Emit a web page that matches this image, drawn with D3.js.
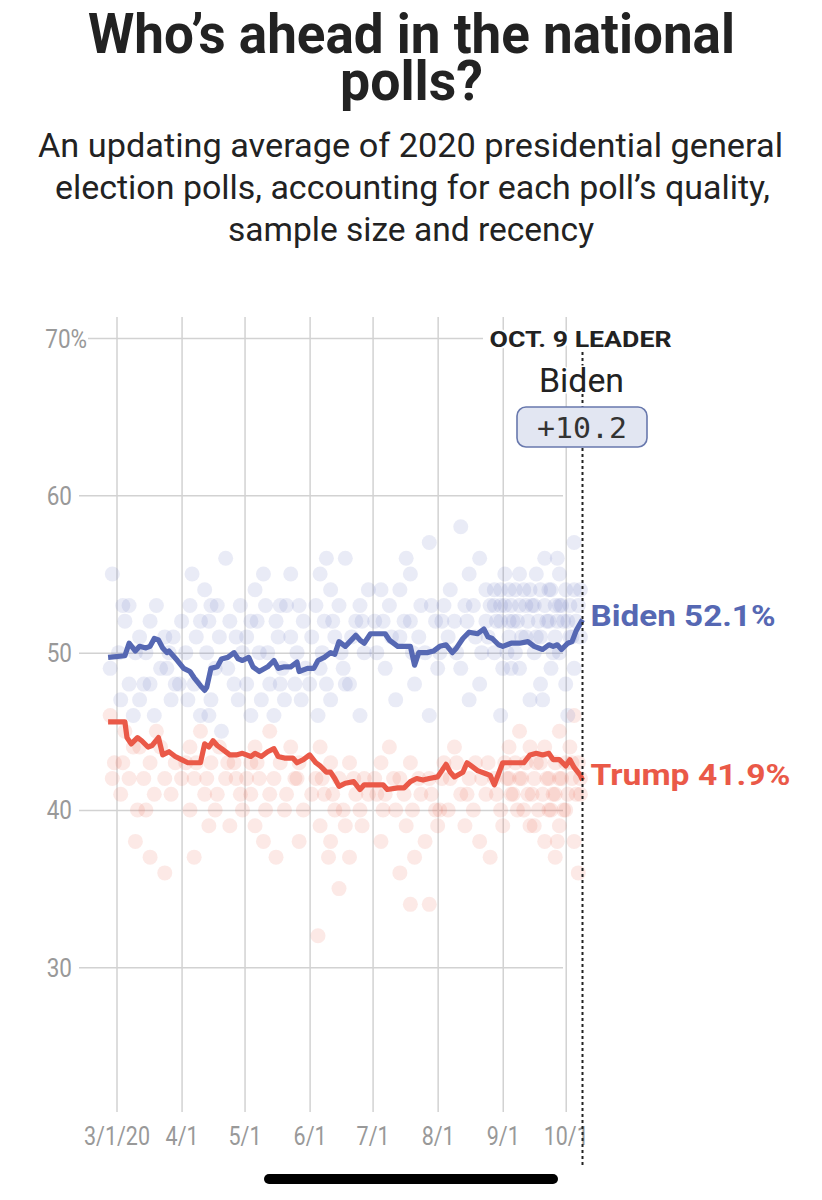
<!DOCTYPE html>
<html><head><meta charset="utf-8">
<script src="https://cdn.jsdelivr.net/npm/d3@7"></script>
<style>
html,body{margin:0;padding:0;background:#fff;}
svg{display:block;}
</style></head><body>
<svg id="chart" width="822" height="1200"></svg>
<script>
// ---------- DATA ----------
const tickDates = ["2020-03-01","2020-04-01","2020-05-01","2020-06-01","2020-07-01","2020-08-01","2020-09-01","2020-10-01"];
const tickLabels = ["3/1/20","4/1","5/1","6/1","7/1","8/1","9/1","10/1"];
const yTicks = [30,40,50,60,70];
const leaderDate = "2020-10-09";
const leaderName = "Biden";
const leaderMargin = "+10.2";

// average lines: days after 3/1/2020 and percent
const bidenDays = [-4,4,6,9,11,14,16,18,20,22,24,25,29,32,35,37,40,42,43,45,48,50,53,56,58,60,63,65,68,72,75,77,80,83,86,87,91,94,96,99,102,104,106,109,114,116,118,121,124,128,130,134,136,140,142,144,148,151,154,157,160,162,165,168,172,175,177,179,182,184,188,192,196,199,203,206,208,210,212,215,217,219,222];
const bidenPct = [49.7,49.8,50.6,50.1,50.4,50.3,50.4,50.9,50.8,50.3,50.0,50.1,49.5,49.0,48.8,48.4,47.9,47.6,47.8,49.0,49.1,49.6,49.7,50.0,49.6,49.5,49.7,49.1,48.8,49.1,49.5,49.0,49.1,49.1,49.4,48.8,49.0,49.0,49.5,49.7,50.0,49.9,50.7,50.4,51.1,50.8,50.6,51.2,51.2,51.2,50.8,50.4,50.4,50.4,49.2,50.0,50.0,50.1,50.4,50.5,50.0,50.3,50.9,51.3,51.2,51.5,51.0,50.9,50.5,50.4,50.6,50.6,50.7,50.4,50.2,50.5,50.4,50.5,50.2,50.6,50.7,51.4,52.1];
const trumpDays = [-4,4,5,7,10,12,15,17,20,22,25,28,31,34,36,40,42,44,46,48,51,54,57,60,64,66,69,72,75,77,80,84,86,89,92,95,97,100,102,104,106,109,113,116,118,122,127,129,134,137,140,143,146,149,153,157,159,161,165,167,169,172,176,178,180,182,184,187,191,194,197,200,203,206,208,211,214,216,218,221,222];
const trumpPct = [45.6,45.6,44.6,44.2,44.6,44.4,44.0,44.1,44.6,43.5,43.7,43.4,43.2,43.0,43.0,43.0,44.2,44.0,44.4,44.1,43.8,43.5,43.5,43.6,43.4,43.6,43.4,43.7,43.9,43.4,43.3,43.3,43.0,43.2,43.5,43.0,42.8,42.4,42.4,42.0,41.5,41.7,41.8,41.3,41.6,41.6,41.6,41.3,41.4,41.4,41.8,42.0,41.9,42.0,42.1,42.9,42.4,42.1,42.4,43.0,42.8,42.5,42.3,42.2,41.6,42.3,43.0,43.0,43.0,43.0,43.5,43.6,43.5,43.6,43.2,43.2,42.8,43.2,42.7,42.2,41.9];

// individual polls: [days after 3/1/2020, percent]
const bidenPolls = [
[-2,55],[6,53],[4,52],[16,52],[11,51],[23,51],[1,50],[14,50],[25,50],[-3,49],[21,49],[6,48],[16,48],[28,48],[2,47],[18,46],[11,47],
[3,53],[9,50],[19,53],[24,49],[27,51],[8,46],[13,48],
[52,56],[42,54],[35,53],[45,53],[59,53],[40,52],[54,52],[49,51],[33,50],[47,49],[37,48],[56,48],[45,47],[40,46],[50,45],[34,47],
[31,52],[38,51],[43,50],[48,53],[53,49],[57,51],[36,55],[60,50],[44,52],
[83,55],[66,54],[71,53],[78,53],[87,53],[64,52],[76,52],[83,51],[68,50],[90,49],[73,48],[85,48],[80,47],[64,46],[69,47],
[62,51],[67,52],[72,50],[77,51],[81,53],[86,50],[89,52],[70,55],[79,49],
[109,56],[97,55],[102,54],[95,53],[106,53],[116,53],[99,52],[114,52],[104,51],[118,50],[97,49],[109,48],[102,47],[116,46],[111,48],
[93,51],[98,50],[103,52],[107,50],[112,51],[117,52],[120,54],[100,56],[108,49],
[149,57],[140,55],[126,54],[135,54],[130,53],[145,53],[123,52],[140,52],[152,52],[135,51],[147,50],[128,49],[142,48],[133,47],[149,46],
[124,50],[127,52],[131,51],[137,52],[141,50],[144,51],[150,53],[153,49],[138,56],
[164,58],[173,56],[168,55],[159,54],[180,54],[156,53],[166,53],[178,53],[161,52],[176,52],[183,52],[171,51],[154,50],[180,50],[164,49],[173,48],[168,47],[183,46],
[155,52],[158,51],[162,50],[167,52],[170,53],[174,50],[177,51],[181,52],[184,49],
[218,57],[204,56],[192,55],[211,55],
[187,54],[190,54],[197,54],[202,54],[207,54],[214,54],[218,54],
[185,53],[188,53],[192,53],[195,53],[199,53],[204,53],[209,53],[211,53],[216,53],[220,53],
[187,52],[191,52],[196,52],[201,52],[206,52],[210,52],[215,52],[219,52],
[187,51],[195,51],[202,51],[209,51],[216,51],
[190,50],[199,50],[211,50],[192,49],[207,49],[218,49],[202,48],[214,48],[197,47],
[176,54],[180,53],[183,54],[185,55],[183,53],
[186,50],[189,52],[193,51],[198,53],[200,51],[205,52],[208,50],[212,53],[213,52],[217,51],[221,54],[194,54],[200,55],[206,54],[210,56],[188,49],[203,47],[215,46],[221,51],
[30,48],[62,48],[78,48],[92,48],[100,48],[26,47],[58,47],[88,47],[96,46],[75,46],[44,46]
];
const trumpPolls = [
[-3,46],[4,45],[11,44],[21,44],[-1,43],[16,43],[28,43],[6,42],[23,42],[2,41],[18,41],[14,40],[9,38],[16,37],[23,36],[-2,42],
[3,43],[8,44],[13,42],[19,45],[26,41],[10,40],
[40,45],[35,44],[49,44],[33,43],[45,43],[56,43],[37,42],[52,42],[42,41],[59,41],[47,40],[54,39],[37,37],[35,40],
[31,42],[38,43],[43,42],[48,41],[53,43],[57,42],[44,39],[60,40],
[73,45],[66,44],[83,44],[64,43],[78,43],[87,43],[68,42],[85,42],[73,41],[80,40],[66,39],[87,38],[76,37],[64,41],
[62,42],[67,43],[71,40],[75,42],[81,41],[86,42],[89,40],[70,38],
[97,44],[102,43],[111,43],[95,42],[106,42],[118,42],[99,41],[114,41],[104,40],[116,40],[97,39],[109,39],[102,38],[111,37],[106,35],[96,32],
[93,41],[98,42],[103,41],[108,40],[113,42],[117,39],[120,41],[101,37],
[130,44],[126,43],[140,43],[123,42],[135,42],[149,42],[128,41],[145,41],[133,40],[152,40],[138,39],[126,38],[147,38],[142,37],[135,36],[140,34],[149,34],
[124,41],[127,40],[132,42],[137,41],[141,40],[144,42],[150,41],[153,39],
[161,44],[156,43],[171,43],[159,42],[168,42],[180,42],[164,41],[176,41],[154,40],[183,40],[166,39],[173,38],[178,37],
[155,42],[158,40],[162,43],[167,41],[170,40],[174,42],[177,43],[181,41],[184,39],
[218,46],[192,45],[211,45],[187,44],[197,44],[204,44],[216,44],[185,43],[190,43],[195,43],[202,43],[209,43],[214,43],[220,43],
[187,42],[192,42],[199,42],[206,42],[211,42],[217,42],[221,42],[188,41],[196,41],[203,41],[209,41],[215,41],[219,41],
[191,40],[201,40],[207,40],[214,40],[197,39],[211,39],[204,38],[218,38],[209,37],[220,36],
[186,42],[189,41],[193,42],[198,41],[200,43],[205,42],[208,41],[212,42],[213,40],[217,43],[221,41],[194,40],[199,39],[206,40],[210,38]
];

// ---------- STYLE / LAYOUT ----------
const bidenColor = "#5668b3", trumpColor = "#ea5948";
const gridColor = "#d2d2d2", tickColor = "#999999";
const gridTop = 317, gridBottom = 1112, gridLeft = 79, gridRight = 563;

const svg = d3.select("#chart");
const parse = d3.timeParse("%Y-%m-%d");
const base = parse("2020-03-01");
const dayToDate = d => d3.timeDay.offset(base, d);

const x = d3.scaleTime().domain([base, parse(leaderDate)]).range([116.5, 582.5]);
const y = d3.scaleLinear().domain([20, 70]).range([1124.6, 338]);

// Title (one text element, two lines)
const tt = svg.append("text").attr("fill", "#222").attr("text-anchor", "middle")
  .style("font-family", "Roboto, 'Liberation Sans', sans-serif").style("font-size", "55px").style("font-weight", 700);
tt.append("tspan").attr("x", 411.5).attr("y", 53)
  .attr("textLength", 647).attr("lengthAdjust", "spacingAndGlyphs").text("Who’s ahead in the national");
tt.append("tspan").attr("x", 411.5).attr("y", 100)
  .attr("textLength", 143).attr("lengthAdjust", "spacingAndGlyphs").text("polls?");

const sub = [
  ["An updating average of 2020 presidential general", 410.5, 157, 745],
  ["election polls, accounting for each poll’s quality,", 412.5, 199, 715],
  ["sample size and recency", 411, 241, 366]
];
const st = svg.append("g").attr("fill", "#222").attr("text-anchor", "middle")
  .style("font-family", "Roboto, 'Liberation Sans', sans-serif");
sub.forEach(s => st.append("text").attr("x", s[1]).attr("y", s[2]).style("font-size", "34px").style("font-weight", 400)
  .attr("textLength", s[3]).attr("lengthAdjust", "spacingAndGlyphs").text(s[0]));

// X axis (vertical gridlines)
const xAxis = d3.axisBottom(x).tickValues(tickDates.map(parse)).tickFormat((d, i) => tickLabels[i])
  .tickSize(-(gridBottom - gridTop)).tickPadding(0);
const gx = svg.append("g").attr("transform", `translate(0,${gridBottom})`).call(xAxis);
gx.select(".domain").remove();
gx.selectAll(".tick line").attr("stroke", gridColor).attr("stroke-width", 1.5);
gx.selectAll(".tick text").attr("y", 33).attr("dy", null).attr("transform", "scale(0.86,1)")
  .attr("fill", tickColor).style("font-family", "Roboto, sans-serif").style("font-size", "25px");

// Y axis (horizontal gridlines)
const yAxis = d3.axisLeft(y).tickValues(yTicks).tickFormat(d => d === 70 ? "70%" : d)
  .tickSize(-(gridRight - gridLeft)).tickPadding(0);
const gy = svg.append("g").attr("transform", `translate(${gridLeft},0)`).call(yAxis);
gy.select(".domain").remove();
gy.selectAll(".tick line").attr("stroke", gridColor).attr("stroke-width", 1.5);
gy.selectAll(".tick").filter(d => d === 70).select("line").attr("x1", 9).attr("x2", 404);
gy.selectAll(".tick text").attr("x", 0).attr("dy", "0.36em")
  .attr("transform", d => d === 70 ? "translate(8,0) scale(0.9,1)" : "translate(-7,0) scale(0.9,1)")
  .attr("fill", tickColor).style("font-family", "Roboto, sans-serif").style("font-size", "25px");

// poll dots
svg.append("g").selectAll("circle").data(trumpPolls).join("circle")
  .attr("cx", d => x(dayToDate(d[0]))).attr("cy", d => y(d[1])).attr("r", 7.5)
  .attr("fill", "#ee6a5a").attr("fill-opacity", 0.15);
svg.append("g").selectAll("circle").data(bidenPolls).join("circle")
  .attr("cx", d => x(dayToDate(d[0]))).attr("cy", d => y(d[1])).attr("r", 7.5)
  .attr("fill", "#6a7cc0").attr("fill-opacity", 0.15);

// average lines
const bidenSeries = bidenDays.map((d, i) => ({date: dayToDate(d), v: bidenPct[i]}));
const trumpSeries = trumpDays.map((d, i) => ({date: dayToDate(d), v: trumpPct[i]}));
const line = d3.line().x(d => x(d.date)).y(d => y(d.v));
svg.append("path").datum(trumpSeries).attr("d", line).attr("fill", "none")
  .attr("stroke", trumpColor).attr("stroke-width", 5.2).attr("stroke-linejoin", "round");
svg.append("path").datum(bidenSeries).attr("d", line).attr("fill", "none")
  .attr("stroke", bidenColor).attr("stroke-width", 5.2).attr("stroke-linejoin", "round");

// leader marker
const lx = x(parse(leaderDate));
svg.append("line").attr("x1", lx).attr("x2", lx).attr("y1", 352).attr("y2", 1167)
  .attr("stroke", "#222").attr("stroke-width", 2).attr("stroke-dasharray", "3,3");

const ann = svg.append("g").attr("text-anchor", "middle").style("font-family", "Roboto, sans-serif");
ann.append("text").attr("x", lx - 2).attr("y", 347).attr("fill", "#222")
  .style("font-size", "22px").style("font-weight", 700)
  .attr("stroke", "#fff").attr("stroke-width", 4).style("paint-order", "stroke")
  .attr("textLength", 182).attr("lengthAdjust", "spacingAndGlyphs").text("OCT. 9 LEADER");
ann.append("text").attr("x", lx - 1).attr("y", 392).attr("fill", "#222")
  .style("font-size", "33px").style("font-weight", 400)
  .attr("stroke", "#fff").attr("stroke-width", 3).style("paint-order", "stroke")
  .attr("textLength", 85).attr("lengthAdjust", "spacingAndGlyphs").text(leaderName);
ann.append("rect").attr("x", lx - 65.5).attr("y", 407).attr("width", 130).attr("height", 40).attr("rx", 9)
  .attr("fill", "#e2e6f2").attr("stroke", "#6878ad").attr("stroke-width", 1.6);
ann.append("text").attr("x", lx - 0.5).attr("y", 438).attr("fill", "#333")
  .style("font-family", "'DejaVu Sans Mono', monospace").style("font-size", "28px")
  .attr("textLength", 90).attr("lengthAdjust", "spacingAndGlyphs").text(leaderMargin);

// end labels
const fmt = d3.format(".1f");
const bLast = bidenSeries[bidenSeries.length - 1], tLast = trumpSeries[trumpSeries.length - 1];
svg.append("text").attr("x", x(bLast.date) + 8).attr("y", y(bLast.v) + 6)
  .attr("fill", bidenColor).style("font-family", "Roboto, sans-serif").style("font-size", "29px").style("font-weight", 700)
  .attr("textLength", 185).attr("lengthAdjust", "spacingAndGlyphs").text(`Biden ${fmt(bLast.v)}%`);
svg.append("text").attr("x", x(tLast.date) + 8).attr("y", y(tLast.v) + 5)
  .attr("fill", trumpColor).style("font-family", "Roboto, sans-serif").style("font-size", "29px").style("font-weight", 700)
  .attr("textLength", 200).attr("lengthAdjust", "spacingAndGlyphs").text(`Trump ${fmt(tLast.v)}%`);

// phone home indicator
svg.append("rect").attr("x", 264).attr("y", 1174).attr("width", 294).attr("height", 10).attr("rx", 5).attr("fill", "#000");
</script>
</body></html>
